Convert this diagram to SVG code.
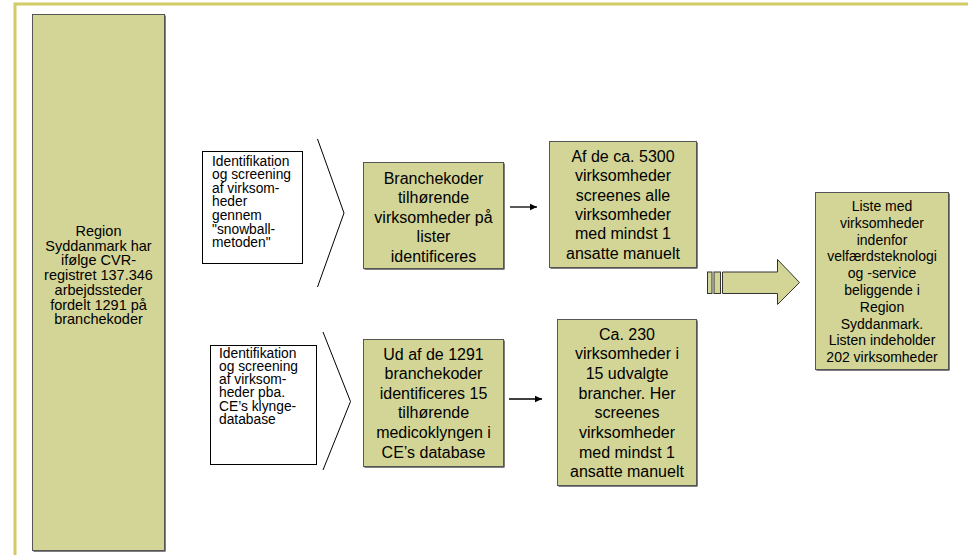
<svg xmlns="http://www.w3.org/2000/svg" width="968" height="555" viewBox="0 0 968 555">
<style>
.frame{stroke:#d3cb66;stroke-width:3;fill:none}
.box{fill:#d3d596;stroke:#555;stroke-width:1}
.sh{fill:#000}
.call{fill:#fff;stroke:#000;stroke-width:1}
.chev{fill:none;stroke:#000;stroke-width:1}
text{font-family:"Liberation Sans",Arial,sans-serif;fill:#000}
.c{text-anchor:middle}
.f16{font-size:16px}
.f14{font-size:14px}
.f145{font-size:14.5px}
.f13{font-size:13.8px}
.ln{stroke:#000;stroke-width:1.3;fill:none}
</style>
<defs>
<marker id="ah" markerWidth="8" markerHeight="8" refX="7" refY="4" orient="auto" markerUnits="userSpaceOnUse">
<path d="M0,0.8 L7,4 L0,7.2 Z" fill="#000"/>
</marker>
</defs>
<rect width="968" height="555" fill="#fff"/>
<path class="frame" d="M15,555 V4 H968"/>

<g id="region">
<rect class="sh" x="33.5" y="15.5" width="132" height="536"/>
<rect class="box" x="32.5" y="14.5" width="132" height="536"/>
<text class="c f145" x="98.5"><tspan x="98.5" y="236">Region</tspan><tspan x="98.5" y="250.7">Syddanmark har</tspan><tspan x="98.5" y="265.4">ifølge CVR-</tspan><tspan x="98.5" y="280.1">registret 137.346</tspan><tspan x="98.5" y="294.8">arbejdssteder</tspan><tspan x="98.5" y="309.5">fordelt 1291 på</tspan><tspan x="98.5" y="324.2">branchekoder</tspan></text>
</g>

<g id="callout1">
<rect class="call" x="202.5" y="151.5" width="100" height="112"/>
<polyline class="chev" points="317.5,139 344,213 317.5,287"/>
<text class="f13"><tspan x="212" y="165.5">Identifikation</tspan><tspan x="212" y="179.1">og screening</tspan><tspan x="212" y="192.7">af virksom-</tspan><tspan x="212" y="206.3">heder</tspan><tspan x="212" y="219.9">gennem</tspan><tspan x="212" y="233.5">"snowball-</tspan><tspan x="212" y="247.1">metoden"</tspan></text>
</g>

<g id="callout2">
<rect class="call" x="210.5" y="345.5" width="106" height="119"/>
<polyline class="chev" points="323,332 350.5,401.5 323,470"/>
<text class="f13"><tspan x="219" y="357.5">Identifikation</tspan><tspan x="219" y="370.8">og screening</tspan><tspan x="219" y="384.1">af virksom-</tspan><tspan x="219" y="397.4">heder pba.</tspan><tspan x="219" y="410.7">CE’s klynge-</tspan><tspan x="219" y="424">database</tspan></text>
</g>

<g id="boxA">
<rect class="sh" x="364.5" y="163.5" width="140" height="106"/>
<rect class="box" x="363.5" y="162.5" width="140" height="106"/>
<text class="c f16"><tspan x="433.5" y="183.5">Branchekoder</tspan><tspan x="433.5" y="203">tilhørende</tspan><tspan x="433.5" y="222.5">virksomheder på</tspan><tspan x="433.5" y="242">lister</tspan><tspan x="433.5" y="261.5">identificeres</tspan></text>
</g>

<g id="boxB">
<rect class="sh" x="550.5" y="142.5" width="147" height="126"/>
<rect class="box" x="549.5" y="141.5" width="147" height="126"/>
<text class="c f16"><tspan x="623" y="162">Af de ca. 5300</tspan><tspan x="623" y="181.3">virksomheder</tspan><tspan x="623" y="200.6">screenes alle</tspan><tspan x="623" y="219.9">virksomheder</tspan><tspan x="623" y="239.2">med mindst 1</tspan><tspan x="623" y="258.5">ansatte manuelt</tspan></text>
</g>

<g id="boxC">
<rect class="sh" x="364.5" y="340.5" width="140" height="127"/>
<rect class="box" x="363.5" y="339.5" width="140" height="127"/>
<text class="c f16"><tspan x="433.5" y="359.5">Ud af de 1291</tspan><tspan x="433.5" y="379.1">branchekoder</tspan><tspan x="433.5" y="398.7">identificeres 15</tspan><tspan x="433.5" y="418.3">tilhørende</tspan><tspan x="433.5" y="437.9">medicoklyngen i</tspan><tspan x="433.5" y="457.5">CE’s database</tspan></text>
</g>

<g id="boxD">
<rect class="sh" x="558.5" y="320.5" width="139" height="166"/>
<rect class="box" x="557.5" y="319.5" width="139" height="166"/>
<text class="c f16"><tspan x="627" y="339.5">Ca. 230</tspan><tspan x="627" y="359.2">virksomheder i</tspan><tspan x="627" y="378.9">15 udvalgte</tspan><tspan x="627" y="398.6">brancher. Her</tspan><tspan x="627" y="418.3">screenes</tspan><tspan x="627" y="438">virksomheder</tspan><tspan x="627" y="457.7">med mindst 1</tspan><tspan x="627" y="477.4">ansatte manuelt</tspan></text>
</g>

<g id="result">
<rect class="sh" x="816.5" y="193.5" width="133" height="177"/>
<rect class="box" x="815.5" y="192.5" width="133" height="177"/>
<text class="c f14"><tspan x="882" y="211">Liste med</tspan><tspan x="882" y="227.8">virksomheder</tspan><tspan x="882" y="244.6">indenfor</tspan><tspan x="882" y="261.4">velfærdsteknologi</tspan><tspan x="882" y="278.2">og -service</tspan><tspan x="882" y="295">beliggende i</tspan><tspan x="882" y="311.8">Region</tspan><tspan x="882" y="328.6">Syddanmark.</tspan><tspan x="882" y="345.4">Listen indeholder</tspan><tspan x="882" y="362.2">202 virksomheder</tspan></text>
</g>

<g id="connectors">
<line class="ln" x1="510" y1="207" x2="537" y2="207" marker-end="url(#ah)"/>
<line class="ln" x1="509" y1="399" x2="542" y2="399" marker-end="url(#ah)"/>
<g id="bigarrow" fill="#d3d596" stroke="#333" stroke-width="1">
<rect x="707.5" y="272" width="4.5" height="21.5"/>
<rect x="714" y="272" width="6.5" height="21.5"/>
<path d="M722.5,272 H777.5 V259.5 L799.5,282.5 L777.5,304.5 V293.5 H722.5 Z"/>
</g>
</g>
</svg>
